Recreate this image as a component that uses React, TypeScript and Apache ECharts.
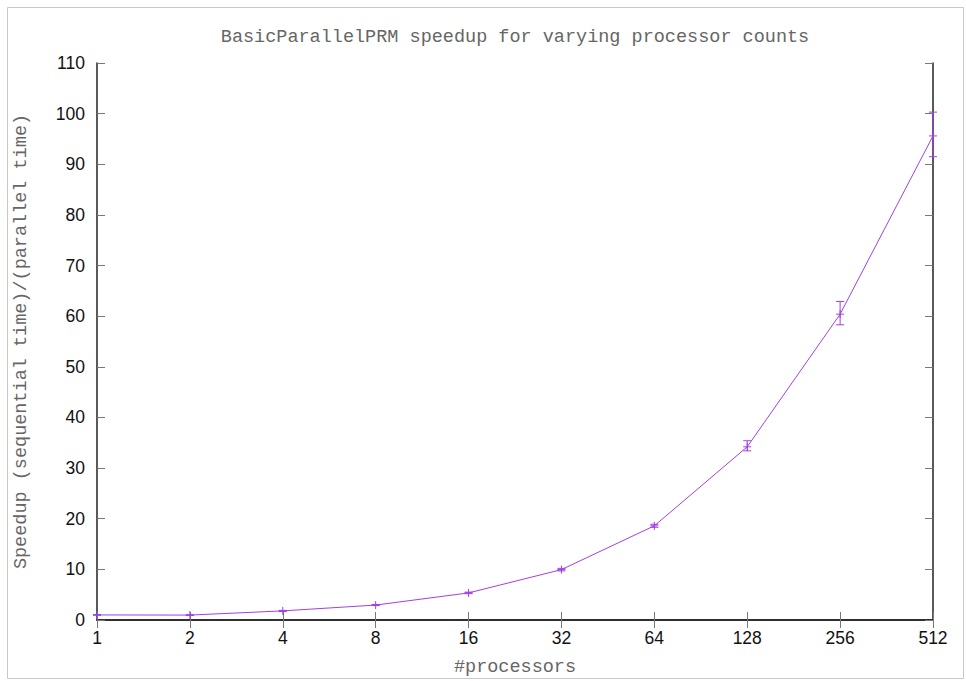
import React, { useEffect, useRef } from "react";
import * as echarts from "echarts";

const processors = ["1", "2", "4", "8", "16", "32", "64", "128", "256", "512"];
const speedup = [1.0, 0.97, 1.8, 2.95, 5.35, 9.95, 18.6, 34.2, 60.4, 95.6];
const errLow = [0.95, 0.93, 1.7, 2.85, 5.2, 9.7, 18.3, 33.4, 58.3, 91.5];
const errHigh = [1.05, 1.01, 1.9, 3.05, 5.5, 10.2, 18.9, 35.4, 62.9, 100.3];
const yTicks = { min: 0, max: 110, interval: 10 };

const titleText = "BasicParallelPRM speedup for varying processor counts";
const xName = "#processors";
const yName = "Speedup (sequential time)/(parallel time)";

const PURPLE = "#a040e4";
const MONO = "'Liberation Mono', 'DejaVu Sans Mono', monospace";
const SANS = "'Liberation Sans', Arial, Helvetica, sans-serif";

export default function App() {
  const ref = useRef<HTMLDivElement>(null);
  useEffect(() => {
    if (!ref.current) return;
    const chart = echarts.init(ref.current, null, { renderer: "svg" });
    const errData = processors.map((_, i) => [i, speedup[i], errLow[i], errHigh[i]]);
    const frameLine = { show: true, lineStyle: { color: "#222", width: 1.5 } };
    const tick = { show: true, inside: true, length: 8, lineStyle: { color: "#777", width: 1 } };
    chart.setOption({
      animation: false,
      backgroundColor: "#fff",
      graphic: [
        {
          type: "rect",
          shape: { x: 7.5, y: 7.5, width: 956, height: 671 },
          style: { fill: "none", stroke: "#c8c8c8", lineWidth: 1 },
          silent: true,
        },
        {
          type: "text",
          x: 515,
          y: 37,
          style: {
            text: titleText,
            font: `18.5px ${MONO}`,
            fill: "#666",
            textAlign: "center",
            textVerticalAlign: "middle",
          },
        },
      ],
      grid: {
        left: 97,
        right: 33,
        top: 63,
        bottom: 61,
        containLabel: false,
        outerBoundsMode: "none",
      },
      xAxis: [
        {
          type: "category",
          data: processors,
          boundaryGap: false,
          position: "bottom",
          name: xName,
          nameLocation: "middle",
          nameGap: 38,
          nameTextStyle: { fontFamily: MONO, fontSize: 18.5, color: "#666" },
          axisLine: frameLine,
          axisTick: { ...tick, alignWithLabel: true },
          axisLabel: { fontFamily: SANS, fontSize: 17.5, color: "#111", margin: 9 },
          splitLine: { show: false },
        },
        {
          type: "category",
          data: processors,
          boundaryGap: false,
          position: "top",
          axisLine: frameLine,
          axisTick: tick,
          axisLabel: { show: false },
          splitLine: { show: false },
        },
      ],
      yAxis: [
        {
          type: "value",
          min: yTicks.min,
          max: yTicks.max,
          interval: yTicks.interval,
          position: "left",
          name: yName,
          nameLocation: "middle",
          nameGap: 66,
          nameTextStyle: { fontFamily: MONO, fontSize: 18.5, color: "#666" },
          axisLine: frameLine,
          axisTick: tick,
          axisLabel: { fontFamily: SANS, fontSize: 17.5, color: "#111", margin: 12 },
          splitLine: { show: false },
        },
        {
          type: "value",
          min: yTicks.min,
          max: yTicks.max,
          interval: yTicks.interval,
          position: "right",
          axisLine: frameLine,
          axisTick: tick,
          axisLabel: { show: false },
          splitLine: { show: false },
        },
      ],
      series: [
        {
          type: "line",
          data: speedup,
          symbol: "none",
          lineStyle: { color: PURPLE, width: 1 },
          z: 3,
        },
        {
          type: "custom",
          data: errData,
          encode: { x: 0, y: 1 },
          clip: false,
          z: 4,
          renderItem: (params: any, api: any) => {
            const xi = api.value(0);
            const p = api.coord([xi, api.value(1)]);
            const lo = api.coord([xi, api.value(2)]);
            const hi = api.coord([xi, api.value(3)]);
            const st = { stroke: PURPLE, lineWidth: 1, fill: "none" };
            const cw = 4;
            const pw = 4;
            return {
              type: "group",
              children: [
                { type: "line", shape: { x1: lo[0], y1: lo[1], x2: hi[0], y2: hi[1] }, style: st },
                { type: "line", shape: { x1: lo[0] - cw, y1: lo[1], x2: lo[0] + cw, y2: lo[1] }, style: st },
                { type: "line", shape: { x1: hi[0] - cw, y1: hi[1], x2: hi[0] + cw, y2: hi[1] }, style: st },
                { type: "line", shape: { x1: p[0] - pw, y1: p[1], x2: p[0] + pw, y2: p[1] }, style: st },
                { type: "line", shape: { x1: p[0], y1: p[1] - pw, x2: p[0], y2: p[1] + pw }, style: st },
              ],
            };
          },
        },
      ],
    });
    return () => chart.dispose();
  }, []);
  return (
    <div
      ref={ref}
      style={{ position: "fixed", left: 0, top: 0, width: 966, height: 681, background: "#fff" }}
    />
  );
}
